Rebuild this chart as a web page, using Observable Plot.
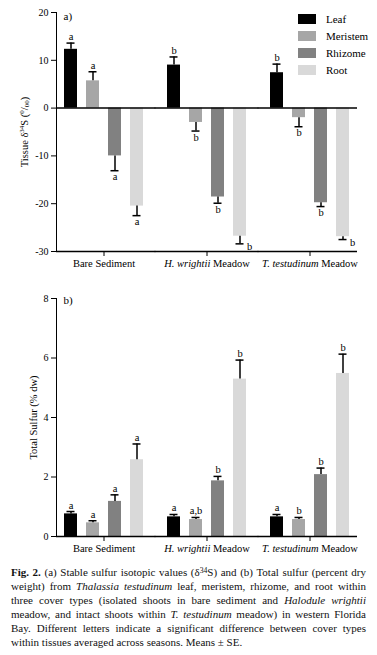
<!DOCTYPE html>
<html><head><meta charset="utf-8">
<script src="https://cdn.jsdelivr.net/npm/d3@7"></script>
<script src="https://cdn.jsdelivr.net/npm/@observablehq/plot@0.6"></script>
<style>
html,body{margin:0;padding:0;background:#fff;}
body{width:377px;overflow:hidden;}
#wrap{position:relative;width:377px;}
#a svg,#b svg{display:block;}
.legend{position:absolute;left:298px;top:10.5px;font:11px "Liberation Serif",serif;color:#000;}
.legend .row{display:flex;align-items:center;height:17px;}
.legend .sw{width:18px;height:10px;margin-right:10px;display:inline-block;}
#caption{margin-top:5px;padding:0 11px;font-family:"Liberation Serif",serif;line-height:14px;color:#111;}
#caption .ln{text-align:left;}
#caption .just{text-align:justify;text-align-last:justify;}
#caption sup{font-size:0.7em;line-height:0;vertical-align:0.45em;}
</style></head><body>
<div id="wrap"><div id="a"></div><div class="legend" id="legend"></div></div>
<div id="b"></div>
<div id="caption"></div>
<script>
// ---- categories ----
const covers = ["Bare Sediment", "H. wrightii Meadow", "T. testudinum Meadow"];
const tissues = ["Leaf", "Meristem", "Rhizome", "Root"];
const tissueColors = ["#000000", "#a6a6a6", "#818181", "#d9d9d9"];

// ---- (a) δ34S means and SE, per tissue, across covers ----
const d34sLeaf = [12.3, 9.0, 7.4];
const d34sMeristem = [5.7, -3.0, -2.0];
const d34sRhizome = [-10.0, -18.6, -19.8];
const d34sRoot = [-20.5, -26.8, -26.9];
const d34sSeLeaf = [1.3, 1.7, 1.8];
const d34sSeMeristem = [1.9, 1.8, 1.9];
const d34sSeRhizome = [3.1, 1.3, 0.8];
const d34sSeRoot = [2.0, 1.6, 0.6];
const d34sLetters = [["a","b","b"],["a","b","b"],["a","b","b"],["a","b","b"]];
const d34sTicks = [20, 10, 0, -10, -20, -30];

// ---- (b) Total sulfur (% dw) means and SE ----
const tsLeaf = [0.76, 0.66, 0.66];
const tsMeristem = [0.46, 0.57, 0.57];
const tsRhizome = [1.18, 1.87, 2.08];
const tsRoot = [2.58, 5.29, 5.48];
const tsSeLeaf = [0.08, 0.08, 0.08];
const tsSeMeristem = [0.07, 0.07, 0.07];
const tsSeRhizome = [0.22, 0.15, 0.22];
const tsSeRoot = [0.53, 0.64, 0.65];
const tsLetters = [["a","a","a"],["a","a,b","b"],["a","b","b"],["a","b","b"]];
const tsTicks = [0, 2, 4, 6, 8];

function buildRows(means, ses, letters) {
  const rows = [];
  covers.forEach((cover, i) => tissues.forEach((tissue, j) => {
    const value = means[j][i], se = ses[j][i];
    rows.push({cover, tissue, value, se, end: value >= 0 ? value + se : value - se, letter: letters[j][i]});
  }));
  return rows;
}
const rowsA = buildRows([d34sLeaf, d34sMeristem, d34sRhizome, d34sRoot],
                        [d34sSeLeaf, d34sSeMeristem, d34sSeRhizome, d34sSeRoot], d34sLetters);
const rowsB = buildRows([tsLeaf, tsMeristem, tsRhizome, tsRoot],
                        [tsSeLeaf, tsSeMeristem, tsSeRhizome, tsSeRoot], tsLetters);

const FONT = '"Liberation Serif", "Times New Roman", serif';
const FX_PAD = 0.08, PLOT_W = 377, ML = 56, MR = 20;
const halfGap = ((PLOT_W - ML - MR) / (covers.length - FX_PAD)) * FX_PAD / 2 + 0.2;

// horizontal rules spanning all facets (bridging the gaps between facets)
function rulesAcross(values) {
  return covers.map((c, i) => Plot.ruleY(values, {
    fx: () => c, stroke: "#000", strokeWidth: 1.5,
    insetLeft: i === 0 ? 0 : -halfGap, insetRight: i === covers.length - 1 ? 0 : -halfGap
  }));
}

function panel(rows, opts) {
  const up = rows.filter(d => d.value >= 0);
  const down = rows.filter(d => d.value < 0 && d.end > opts.yDomain[0] + 3);
  const side = rows.filter(d => d.value < 0 && d.end <= opts.yDomain[0] + 3);
  return Plot.plot({
    width: PLOT_W, height: opts.height,
    marginLeft: ML, marginRight: MR, marginTop: opts.marginTop, marginBottom: 24,
    style: {fontFamily: FONT, fontSize: "10px", color: "#000", background: "white", overflow: "visible"},
    fx: {domain: covers, paddingInner: FX_PAD, paddingOuter: 0, axis: "bottom", label: null, tickSize: 5, tickPadding: 3},
    x: {domain: tissues, paddingInner: 0.395, paddingOuter: 0.352, axis: null},
    y: {domain: opts.yDomain, ticks: opts.ticks, tickFormat: d => String(d), tickSize: 5, tickPadding: 3,
        line: true, label: opts.label, labelAnchor: "center", labelOffset: opts.labelOffset, labelArrow: "none"},
    color: {domain: tissues, range: tissueColors},
    marks: [
      Plot.barY(rows, {fx: "cover", x: "tissue", y: "value", fill: "tissue"}),
      ...rulesAcross(opts.rules),
      Plot.ruleX(rows, {fx: "cover", x: "tissue", y1: "value", y2: "end", stroke: "#000", strokeWidth: 1.5}),
      Plot.tickY(rows, {fx: "cover", x: "tissue", y: "end", insetLeft: 2.5, insetRight: 2.5, stroke: "#000", strokeWidth: 1.5}),
      Plot.text(up, {fx: "cover", x: "tissue", y: "end", text: "letter", lineAnchor: "bottom", dy: -3, fontSize: 10.5, fill: "#000"}),
      Plot.text(down, {fx: "cover", x: "tissue", y: "end", text: "letter", lineAnchor: "top", dy: 2, fontSize: 10.5, fill: "#000"}),
      Plot.text(side, {fx: "cover", x: "tissue", y: "end", text: "letter", lineAnchor: "middle", textAnchor: "start", dx: 7, dy: 3, fontSize: 10.5, fill: "#000"}),
      Plot.text([opts.tag], {fx: () => covers[0], frameAnchor: "top-left", text: d => d, dx: 7, dy: opts.tagDy, lineAnchor: "top", fontSize: 11, fill: "#000"})
    ]
  });
}

const chartA = panel(rowsA, {height: 275, marginTop: 12, yDomain: [-30, 20], ticks: d34sTicks,
  label: "Tissue δ34S (0/00)", labelOffset: 36, rules: [0, -30], tag: "a)", tagDy: 0});
const chartB = panel(rowsB, {height: 285, marginTop: 23, yDomain: [0, 8], ticks: tsTicks,
  label: "Total Sulfur (% dw)", labelOffset: 27, rules: [0], tag: "b)", tagDy: -2});

function fixTexts(svg) {
  svg.querySelectorAll("text").forEach(t => {
    const s = t.textContent;
    if (s === "H. wrightii Meadow") {
      t.innerHTML = '<tspan font-style="italic">H. wrightii</tspan> Meadow'; t.setAttribute("font-size", "10.5");
    } else if (s === "T. testudinum Meadow") {
      t.innerHTML = '<tspan font-style="italic">T. testudinum</tspan> Meadow'; t.setAttribute("font-size", "10.5");
    } else if (s === "Bare Sediment") {
      t.setAttribute("font-size", "10.5");
    } else if (s === "Tissue δ34S (0/00)") {
      t.innerHTML = 'Tissue δ<tspan dy="-3.5" font-size="7">34</tspan><tspan dy="3.5">S (</tspan><tspan dy="-3.5" font-size="7">0</tspan><tspan dy="3.5">/</tspan><tspan dy="1.5" font-size="7">00</tspan><tspan dy="-1.5">)</tspan>';
      t.setAttribute("font-size", "10.5");
    } else if (s === "Total Sulfur (% dw)") {
      t.setAttribute("font-size", "10.5");
    }
  });
}
fixTexts(chartA); fixTexts(chartB);
document.getElementById("a").appendChild(chartA);
document.getElementById("b").appendChild(chartB);

// legend
const legend = document.getElementById("legend");
tissues.forEach((t, j) => {
  const r = document.createElement("div"); r.className = "row";
  r.innerHTML = `<span class="sw" style="background:${tissueColors[j]}"></span><span>${t}</span>`;
  legend.appendChild(r);
});

// caption
const captionLines = [
  '<b>Fig. 2.</b> (a) Stable sulfur isotopic values (δ<sup>34</sup>S) and (b) Total sulfur (percent dry',
  'weight) from <i>Thalassia testudinum</i> leaf, meristem, rhizome, and root within',
  'three cover types (isolated shoots in bare sediment and <i>Halodule wrightii</i>',
  'meadow, and intact shoots within <i>T. testudinum</i> meadow) in western Florida',
  'Bay. Different letters indicate a significant difference between cover types',
  'within tissues averaged across seasons. Means ± SE.'
];
const cap = document.getElementById("caption");
let fs = 11;
cap.style.fontSize = fs + "px";
captionLines.forEach((h, k) => {
  const d = document.createElement("div");
  d.className = "ln" + (k < captionLines.length - 1 ? " just" : "");
  d.innerHTML = h; cap.appendChild(d);
});
let maxw = 0;
cap.querySelectorAll(".ln").forEach(d => {
  const s = document.createElement("span"); s.style.whiteSpace = "nowrap"; s.innerHTML = d.innerHTML;
  d.appendChild(s); const w = s.getBoundingClientRect().width; d.removeChild(s);
  maxw = Math.max(maxw, w);
});
const avail = 355;
if (maxw > avail) { fs = fs * avail / maxw * 0.99; cap.style.fontSize = fs + "px"; }
</script>
</body></html>
